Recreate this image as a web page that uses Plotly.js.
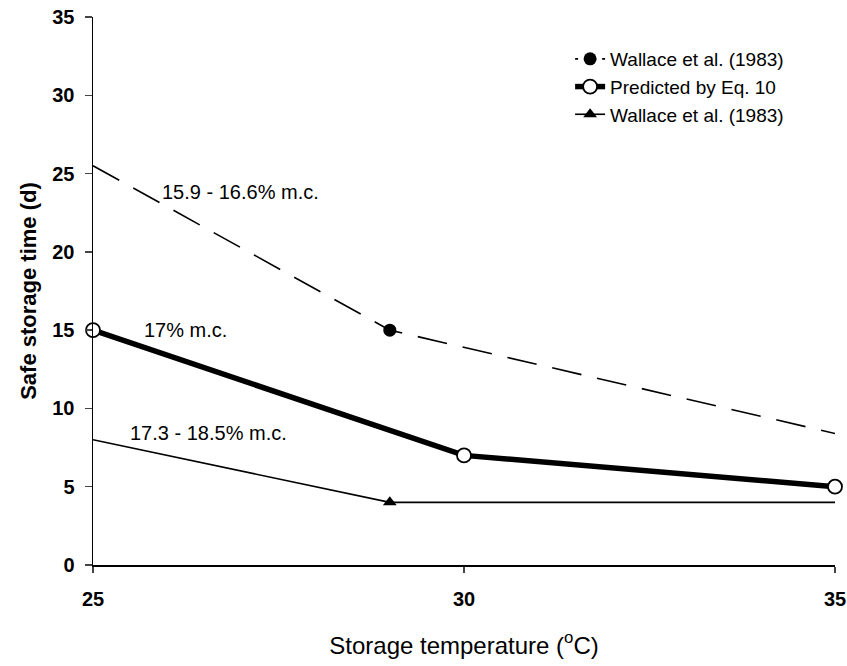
<!DOCTYPE html>
<html><head><meta charset="utf-8">
<script src="https://cdn.plot.ly/plotly-3.0.1.min.js"></script>
<style>html,body{margin:0;padding:0;background:#fff}</style>
</head><body>
<div id="chart" style="width:847px;height:666px"></div>
<script>
const wallaceHighX = [25, 29, 35];
const wallaceHighY = [25.5, 15, 8.4];
const wallaceHighMarkX = [29];
const wallaceHighMarkY = [15];
const predictedX = [25, 30, 35];
const predictedY = [15, 7, 5];
const wallaceLowX = [25, 29, 35];
const wallaceLowY = [8, 4, 4];
const wallaceLowMarkX = [29];
const wallaceLowMarkY = [4];
const seriesNames = ["Wallace et al. (1983)", "Predicted by Eq. 10", "Wallace et al. (1983)"];
const labelTexts = ["15.9 - 16.6% m.c.", "17% m.c.", "17.3 - 18.5% m.c."];
const labelX = [26.99, 26.24, 26.56];
const labelY = [23.8, 15.0, 8.45];

const font = "Liberation Sans, Arial, sans-serif";
const dashLine = {color: "#000", width: 1.6, dash: "30px,16px"};
const thickLine = {color: "#000", width: 5.5};
const thinLine = {color: "#000", width: 1.6};
const openCircle = {symbol: "circle", size: 14, color: "#fff", line: {color: "#000", width: 1.8}};
const filledCircle = {symbol: "circle", size: 13, color: "#000", opacity: 1};
const triangle = {symbol: "triangle-up", size: 12, color: "#000", opacity: 1};

const traces = [
  {x: wallaceHighX, y: wallaceHighY, mode: "lines", line: dashLine, showlegend: false, cliponaxis: false},
  {x: wallaceHighMarkX, y: wallaceHighMarkY, mode: "markers", marker: filledCircle, showlegend: false, cliponaxis: false},
  {x: predictedX, y: predictedY, mode: "lines+markers", line: thickLine, marker: openCircle, showlegend: false, cliponaxis: false},
  {x: wallaceLowX, y: wallaceLowY, mode: "lines", line: thinLine, showlegend: false, cliponaxis: false},
  {x: wallaceLowMarkX, y: wallaceLowMarkY, mode: "markers", marker: triangle, showlegend: false, cliponaxis: false},
  {x: [null], y: [null], name: seriesNames[0], mode: "lines+markers", line: {color: "#000", width: 1.6, dash: "3px,6px"}, marker: filledCircle},
  {x: [null], y: [null], name: seriesNames[1], mode: "lines+markers", line: thickLine, marker: openCircle},
  {x: [null], y: [null], name: seriesNames[2], mode: "lines+markers", line: thinLine, marker: triangle}
];
const layout = {
  width: 847, height: 666,
  margin: {l: 93, r: 12, t: 17, b: 101},
  paper_bgcolor: "#fff", plot_bgcolor: "#fff",
  font: {family: font, color: "#000", size: 20},
  showlegend: true,
  legend: {x: 0.643, y: 0.958, xanchor: "left", yanchor: "top", bgcolor: "rgba(0,0,0,0)",
           font: {family: font, size: 19, color: "#000"}, tracegroupgap: 0},
  xaxis: {range: [25, 35], tickvals: [25, 30, 35], ticks: "outside", ticklen: 6, tickwidth: 1.5,
          showline: true, linecolor: "#000", linewidth: 1.5, showgrid: false, zeroline: false,
          tickfont: {family: font, size: 20, weight: "bold"}, ticklabelstandoff: 9,
          title: {text: "Storage temperature (<sup>o</sup>C)", font: {family: font, size: 24}, standoff: 28}},
  yaxis: {range: [0, 35], tickvals: [0, 5, 10, 15, 20, 25, 30, 35], ticks: "outside", ticklen: 7, tickwidth: 1.5,
          showline: true, linecolor: "#000", linewidth: 1.5, showgrid: false, zeroline: false,
          tickfont: {family: font, size: 20, weight: "bold"}, ticklabelstandoff: 6,
          title: {text: "Safe storage time (d)", font: {family: font, size: 22, weight: "bold"}, standoff: 9}},
  annotations: labelTexts.map((t, i) => ({x: labelX[i], y: labelY[i], text: t, showarrow: false,
          font: {family: font, size: 20, color: "#000"}, xanchor: "center", yanchor: "middle"}))
};
Plotly.newPlot("chart", traces, layout, {displayModeBar: false, staticPlot: true});
</script>
</body></html>
